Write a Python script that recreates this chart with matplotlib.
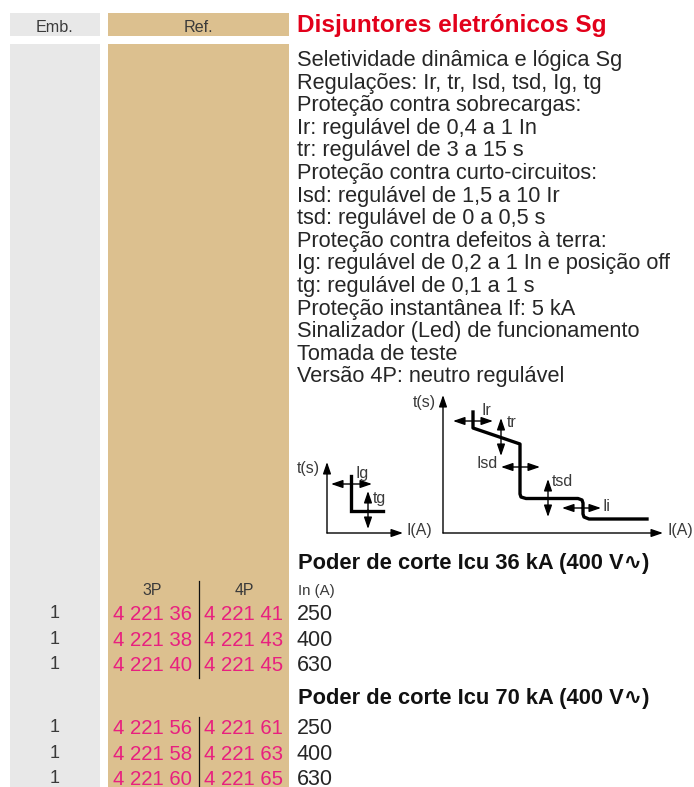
import matplotlib
matplotlib.use("Agg")
import matplotlib.pyplot as plt
from matplotlib.patches import Rectangle

FONT = ['Liberation Sans', 'DejaVu Sans']
plt.rcParams['font.family'] = FONT

title = "Disjuntores eletrónicos Sg"
features = ["Seletividade dinâmica e lógica Sg", "Regulações: Ir, tr, Isd, tsd, Ig, tg",
            "Proteção contra sobrecargas:", "Ir: regulável de 0,4 a 1 In", "tr: regulável de 3 a 15 s",
            "Proteção contra curto-circuitos:", "Isd: regulável de 1,5 a 10 Ir", "tsd: regulável de 0 a 0,5 s",
            "Proteção contra defeitos à terra:", "Ig: regulável de 0,2 a 1 In e posição off",
            "tg: regulável de 0,1 a 1 s", "Proteção instantânea If: 5 kA",
            "Sinalizador (Led) de funcionamento", "Tomada de teste", "Versão 4P: neutro regulável"]
ratings = ["250", "400", "630"]
emb = ["1", "1", "1"]
refs_3p_36 = ["4 221 36", "4 221 38", "4 221 40"]
refs_4p_36 = ["4 221 41", "4 221 43", "4 221 45"]
refs_3p_70 = ["4 221 56", "4 221 58", "4 221 60"]
refs_4p_70 = ["4 221 61", "4 221 63", "4 221 65"]
heading_36 = "Poder de corte Icu 36 kA (400 V\u223f)"
heading_70 = "Poder de corte Icu 70 kA (400 V\u223f)"
curve_main_x = [473, 473, 520, 520, 521, 526, 578, 582, 583, 583, 584, 589, 647]
curve_main_y = [412, 428, 444, 494, 497, 498.5, 498.5, 500, 503, 514, 517, 519, 519]
curve_g_x = [351, 351, 383]
curve_g_y = [476, 511, 511]

fig = plt.figure(figsize=(6.94, 7.87), dpi=100)
ax = fig.add_axes([0, 0, 1, 1])
ax.set_xlim(0, 694); ax.set_ylim(787, 0); ax.axis('off')

GREY = '#e8e8e8'; TAN = '#dcc08f'; PINK = '#e8207f'; DARK = '#3a3a3a'; TXT = '#262626'
for x0, x1, c in [(10, 100, GREY), (108, 289, TAN)]:
    ax.add_patch(Rectangle((x0, 13), x1 - x0, 23, color=c, lw=0))
    ax.add_patch(Rectangle((x0, 44), x1 - x0, 743, color=c, lw=0))

BL = 'baseline'
ax.text(54.5, 31.7, "Emb.", fontsize=11.6, color=DARK, ha='center', va=BL)
ax.text(198.5, 31.7, "Ref.", fontsize=11.6, color=DARK, ha='center', va=BL)
ax.text(297, 32, title, fontsize=17.6, color='#e2001a', weight='bold', va=BL)

y_top = 66; step = 22.6
for i, line in enumerate(features):
    ax.text(297, y_top + i * step, line, fontsize=15.65, color=TXT, va=BL)

# tables
ax.text(152.5, 595, "3P", fontsize=11.4, color=DARK, ha='center', va=BL)
ax.text(244, 595, "4P", fontsize=11.4, color=DARK, ha='center', va=BL)
ax.text(298, 595, "In (A)", fontsize=10.8, color=DARK, va=BL)
ax.text(298, 568.5, heading_36, fontsize=15.75, color='#111111', weight='bold', va=BL)
ax.text(298, 704, heading_70, fontsize=15.75, color='#111111', weight='bold', va=BL)

def table(ys, ye, r3, r4, yline):
    for y, y1, e, a, b, r in zip(ys, ye, emb, r3, r4, ratings):
        ax.text(54.5, y1, e, fontsize=13, color=DARK, ha='center', va=BL)
        ax.text(113, y, a, fontsize=14.7, color=PINK, va=BL)
        ax.text(204, y, b, fontsize=14.7, color=PINK, va=BL)
        ax.text(297, y, r, fontsize=15.5, color=TXT, va=BL)
    ax.plot([198.7, 198.7], yline, color='#111111', lw=0.9)

table([620, 645.7, 671], [618.3, 644, 669], refs_3p_36, refs_4p_36, [581, 678])
table([734, 760, 785], [732, 758, 783], refs_3p_70, refs_4p_70, [716.7, 787])

# diagrams
def arrow(x0, y0, x1, y1):
    ax.annotate('', xy=(x1, y1), xytext=(x0, y0),
                arrowprops=dict(arrowstyle='-|>,head_length=0.7,head_width=0.24', color='black', lw=1.0,
                                shrinkA=0, shrinkB=0))
def dbl(x0, y0, x1, y1):
    xm, ym = (x0 + x1) / 2, (y0 + y1) / 2
    arrow(xm, ym, x0, y0); arrow(xm, ym, x1, y1)

arrow(443, 533, 443, 395); arrow(443, 533, 663, 533)
arrow(327, 533, 327, 462); arrow(327, 533, 403, 533)
ax.plot(curve_main_x, curve_main_y, color='black', lw=2.4, solid_joinstyle='round')
ax.plot(curve_g_x, curve_g_y, color='black', lw=2.4, solid_joinstyle='miter')
dbl(453, 421, 493, 421); dbl(501, 418, 501, 456); dbl(501, 467, 540, 467)
dbl(548, 479, 548, 517); dbl(562, 508, 601, 508)
dbl(331, 484, 372, 484); dbl(368, 491, 368, 529)

labs = [(413, 407, "t(s)"), (297, 473, "t(s)"), (407, 535, "I(A)"), (668, 535, "I(A)"),
        (482, 415, "Ir"), (507, 427, "tr"), (477, 468, "Isd"), (552, 486, "tsd"),
        (603, 511, "Ii"), (356, 478, "Ig"), (373, 503, "tg")]
for x, y, s in labs:
    ax.text(x, y, s, fontsize=11.4, color=DARK, ha='left', va=BL)

fig.savefig('out.png', dpi=100)
